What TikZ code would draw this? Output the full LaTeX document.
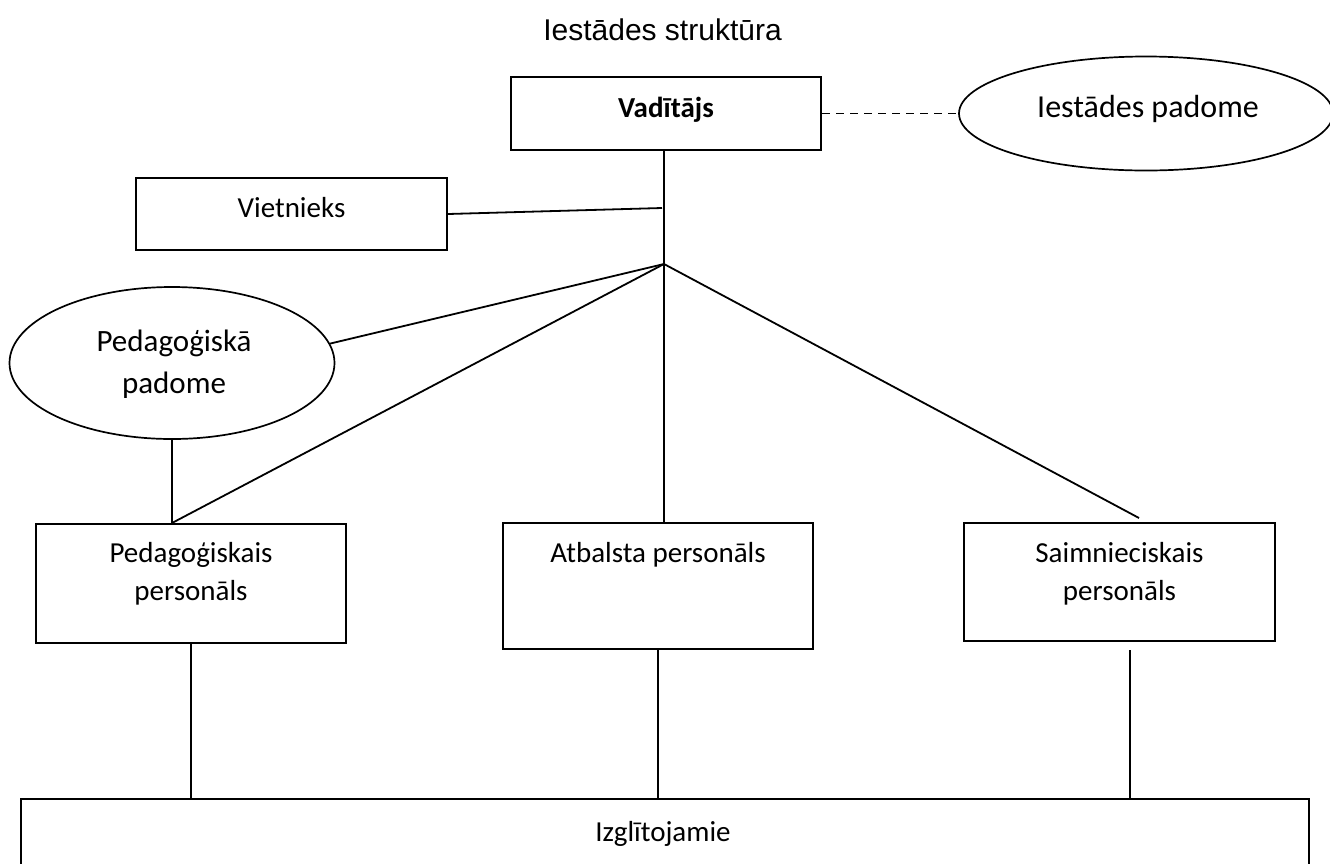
\documentclass[tikz,border=0pt]{standalone}
\usepackage{fontspec}
\setmainfont{Carlito}
\newfontfamily\arialf{Liberation Sans}
\usetikzlibrary{shapes.geometric}
\tikzset{
  box/.style={draw, rectangle, line width=2pt, inner sep=0pt},
  oval/.style={draw, ellipse, line width=1.7pt, inner sep=0pt},
  lbl/.style={inner sep=0pt, anchor=base, align=center, font=\fontsize{29}{38}\selectfont},
  conn/.style={line width=1.8pt},
}
\begin{document}
\begin{tikzpicture}[x=1pt,y=-1pt]
\useasboundingbox (0,0) rectangle (1330,863);
% title
\node[inner sep=0pt, anchor=base, font=\arialf\fontsize{30}{36}\selectfont] (title) at (662.5,40) {Iestādes struktūra};
% boxes
\node[box, minimum width=310pt, minimum height=73pt] (vad) at (666,113.5) {};
\node[lbl, font=\bfseries\fontsize{29}{34}\selectfont] (vadT) at (666,117) {Vadītājs};
\node[oval, minimum width=374pt, minimum height=114pt] (iest) at (1146,113.5) {};
\node[lbl, font=\fontsize{32}{38}\selectfont] (iestT) at (1148,117) {Iestādes padome};
\node[box, minimum width=311pt, minimum height=72pt] (viet) at (291.5,214) {};
\node[lbl] (vietT) at (291.5,217) {Vietnieks};
\node[oval, minimum width=325pt, minimum height=152pt] (pp) at (172,363) {};
\node[lbl, font=\fontsize{31}{42}\selectfont] (ppT) at (174,393) {Pedagoģiskā\\padome};
\node[box, minimum width=310pt, minimum height=119pt] (ped) at (191,583.5) {};
\node[lbl] (pedT) at (191,600) {Pedagoģiskais\\personāls};
\node[box, minimum width=310pt, minimum height=126pt] (atb) at (658,586) {};
\node[lbl] (atbT) at (658,562) {Atbalsta personāls};
\node[box, minimum width=311pt, minimum height=118pt] (saim) at (1119.5,582) {};
\node[lbl] (saimT) at (1119.5,600) {Saimnieciskais\\personāls};
\node[box, minimum width=1288pt, minimum height=102pt] (izg) at (665,850) {};
\node[lbl] (izgT) at (663,841) {Izglītojamie};
% connector points
\coordinate (J) at (664,264);
\coordinate (vj) at (662,208);
\coordinate (sEnd) at (1139,518);
\coordinate (sStart) at (1130,650);
% connectors
\draw[conn] (J |- vad.south) -- (J |- atb.north);
\draw[conn] (viet.east) -- (vj);
\draw[conn] (J) -- (pp.7);
\draw[conn] (J) -- (pp.south |- ped.north);
\draw[conn] (pp.south) -- (pp.south |- ped.north);
\draw[conn] (J) -- (sEnd);
\draw[conn] (ped.south) -- (ped.south |- izg.north);
\draw[conn] (atb.south) -- (atb.south |- izg.north);
\draw[conn] (sStart) -- (sStart |- izg.north);
\draw[conn, dash pattern=on 8pt off 6pt] (vad.east) -- (iest.west);
\end{tikzpicture}
\end{document}
